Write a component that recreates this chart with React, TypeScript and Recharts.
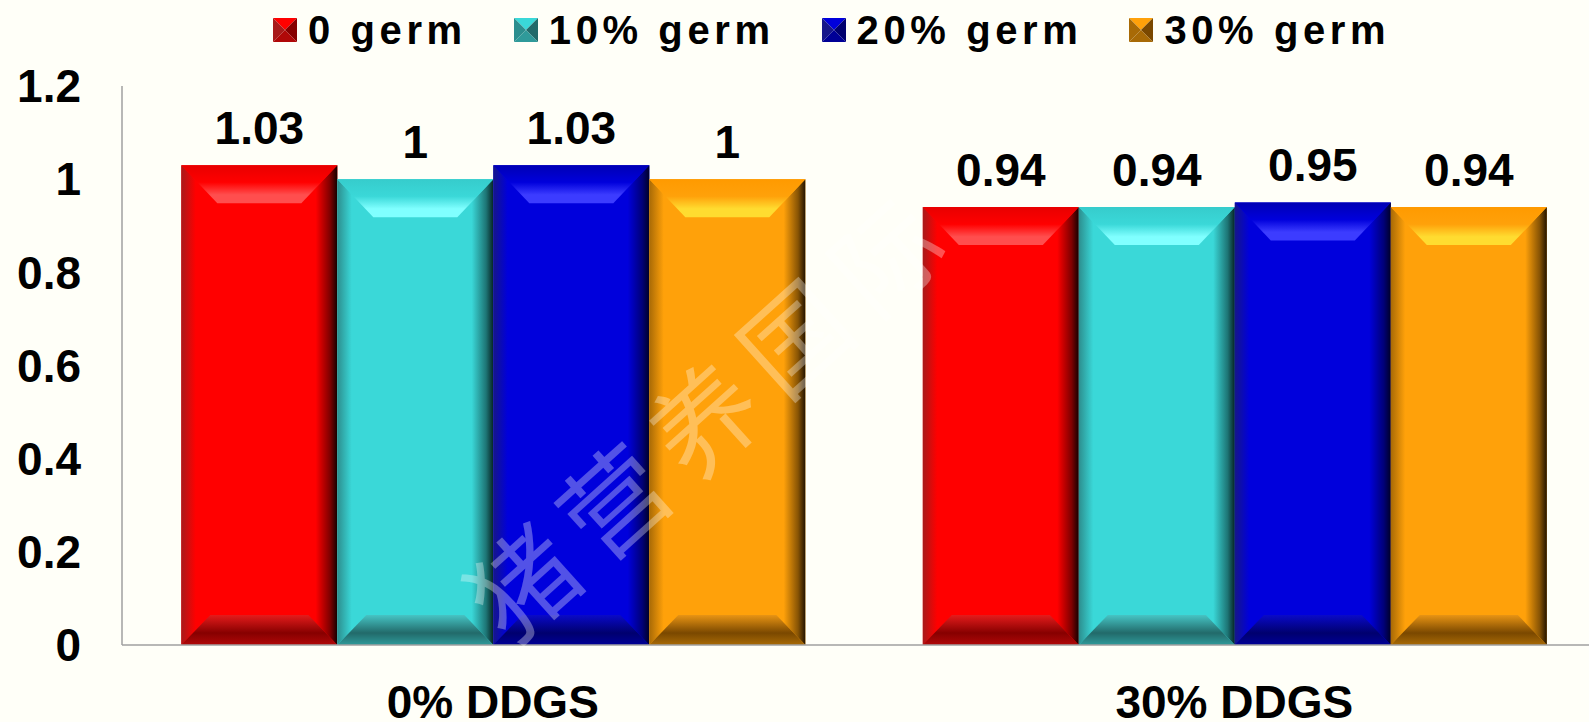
import React from 'react';
import { BarChart, Bar, XAxis, YAxis, LabelList, Legend } from 'recharts';

// Values per diet group
const categories = ['0% DDGS', '30% DDGS'];
const germ0 = [1.03, 0.94];
const germ10 = [1, 0.94];
const germ20 = [1.03, 0.95];
const germ30 = [1, 0.94];
const seriesKeys = ['g0', 'g10', 'g20', 'g30'];
const seriesNames = ['0 germ', '10% germ', '20% germ', '30% germ'];
const yTicks = [0, 0.2, 0.4, 0.6, 0.8, 1, 1.2];

const data = categories.map((name, i) => ({
  name,
  g0: germ0[i],
  g10: germ10[i],
  g20: germ20[i],
  g30: germ30[i],
}));

// colours for the bevelled faces
const SHADES: Record<string, any> = {
  g0: { face: '#ff0000', topEdge: '#e80000', topLight: '#ff4e4e', side: '#a81a1a', dark: '#140000', botLight: '#e41c1c', botDark: '#860000', botEnd: '#b00808' },
  g10: { face: '#3ad8d8', topEdge: '#36cccc', topLight: '#80ffff', side: '#2c8e8e', dark: '#062424', botLight: '#46c4c4', botDark: '#226a6a', botEnd: '#2f9a9a' },
  g20: { face: '#0000dc', topEdge: '#0000b4', topLight: '#3c3cff', side: '#16168a', dark: '#000028', botLight: '#0a0ac8', botDark: '#00006e', botEnd: '#000096' },
  g30: { face: '#ffa10a', topEdge: '#ff9a00', topLight: '#ffdc30', side: '#a86a06', dark: '#241400', botLight: '#e89414', botDark: '#7a4800', botEnd: '#a86a06' },
};

const FONT = '"Liberation Sans", Arial, Helvetica, sans-serif';
const BG = '#fffff8';
const TEXT_STYLE = { fontSize: 46, fontWeight: 'bold', fill: '#000', fontFamily: FONT };

const BevelBar = (props: any) => {
  const { x, y, width: w, height: h, k } = props;
  if (!h || h <= 0) return null;
  const s = SHADES[k];
  const dt = Math.min(38, h / 2);
  const db = Math.min(30, h / 2);
  const dx = 36;
  const dxb = 29;
  const pts = (arr: number[][]) => arr.map((p) => p.join(',')).join(' ');
  return (
    <g>
      <rect x={x} y={y} width={w} height={h} fill={s.face} />
      <polygon
        points={pts([[x, y], [x + dx, y + dt], [x + dxb, y + h - db], [x, y + h]])}
        fill={`url(#left-${k})`}
      />
      <polygon
        points={pts([[x + w, y], [x + w - dx, y + dt], [x + w - dxb, y + h - db], [x + w, y + h]])}
        fill={`url(#right-${k})`}
      />
      <polygon
        points={pts([[x, y], [x + w, y], [x + w - dx, y + dt], [x + dx, y + dt]])}
        fill={`url(#top-${k})`}
      />
      <polygon
        points={pts([[x, y + h], [x + w, y + h], [x + w - dxb, y + h - db], [x + dxb, y + h - db]])}
        fill={`url(#bot-${k})`}
      />
    </g>
  );
};

const LegendIcon = ({ k }: { k: string }) => {
  const s = SHADES[k];
  return (
    <svg width={24} height={24} style={{ display: 'block' }}>
      <polygon points="0,0 24,0 12,12" fill={s.face} />
      <polygon points="0,0 12,12 0,24" fill={s.side} />
      <polygon points="24,0 12,12 24,24" fill={s.botDark} />
      <polygon points="0,24 12,12 24,24" fill={s.botEnd} />
    </svg>
  );
};

const renderLegend = () => (
  <div style={{ display: 'flex', alignItems: 'center', height: 48, fontFamily: FONT }}>
    {seriesKeys.map((k, i) => (
      <div key={k} style={{ display: 'flex', alignItems: 'center', marginRight: 47 }}>
        <LegendIcon k={k} />
        <span
          style={{
            marginLeft: 11,
            fontSize: 40,
            fontWeight: 'bold',
            letterSpacing: 4.6,
            color: '#000',
            lineHeight: '48px',
          }}
        >
          {seriesNames[i]}
        </span>
      </div>
    ))}
  </div>
);

const App: React.FC = () => {
  return (
    <div
      style={{
        position: 'absolute',
        left: 0,
        top: 0,
        width: 1589,
        height: 722,
        overflow: 'hidden',
        background: BG,
      }}
    >
      <BarChart
        width={1605}
        height={722}
        data={data}
        margin={{ top: 38, right: 0, left: 0, bottom: 0 }}
        barCategoryGap="8%"
        barGap={0}
      >
        <defs>
          {seriesKeys.map((k) => {
            const s = SHADES[k];
            return (
              <React.Fragment key={k}>
                <linearGradient id={`top-${k}`} x1="0" y1="0" x2="0" y2="1">
                  <stop offset="0%" stopColor={s.topEdge} />
                  <stop offset="45%" stopColor={s.face} />
                  <stop offset="78%" stopColor={s.topLight} />
                  <stop offset="100%" stopColor={s.topLight} />
                </linearGradient>
                <linearGradient id={`bot-${k}`} x1="0" y1="0" x2="0" y2="1">
                  <stop offset="0%" stopColor={s.botLight} />
                  <stop offset="60%" stopColor={s.botDark} />
                  <stop offset="100%" stopColor={s.botEnd} />
                </linearGradient>
                <linearGradient id={`left-${k}`} x1="0" y1="0" x2="1" y2="0">
                  <stop offset="0%" stopColor={s.side} stopOpacity={1} />
                  <stop offset="40%" stopColor={s.side} stopOpacity={0} />
                </linearGradient>
                <linearGradient id={`right-${k}`} x1="0" y1="0" x2="1" y2="0">
                  <stop offset="40%" stopColor={s.dark} stopOpacity={0} />
                  <stop offset="80%" stopColor={s.dark} stopOpacity={0.55} />
                  <stop offset="100%" stopColor={s.dark} stopOpacity={1} />
                </linearGradient>
              </React.Fragment>
            );
          })}
        </defs>
        <Legend
          verticalAlign="top"
          align="left"
          content={renderLegend}
          wrapperStyle={{ top: 6, left: 273, width: 'auto' }}
        />
        <XAxis
          dataKey="name"
          height={77}
          axisLine={{ stroke: '#a0a0a0', strokeWidth: 1.5 }}
          tickLine={false}
          tickSize={0}
          tickMargin={40}
          tick={TEXT_STYLE}
        />
        <YAxis
          width={122}
          domain={[0, 1.2]}
          ticks={yTicks}
          axisLine={{ stroke: '#a0a0a0', strokeWidth: 1.5 }}
          tickLine={false}
          tickSize={0}
          tickMargin={41}
          tick={TEXT_STYLE}
        />
        {seriesKeys.map((k, i) => (
          <Bar
            key={k}
            dataKey={k}
            name={seriesNames[i]}
            fill={SHADES[k].face}
            isAnimationActive={false}
            shape={(p: any) => <BevelBar {...p} k={k} />}
          >
            <LabelList dataKey={k} position="top" offset={21} style={TEXT_STYLE} />
          </Bar>
        ))}
      </BarChart>
      <svg
        width={1589}
        height={722}
        style={{ position: 'absolute', left: 0, top: 0, pointerEvents: 'none' }}
      >
        <text
          x={0}
          y={0}
          transform="translate(511,648) rotate(-42)"
          fontSize={105}
          letterSpacing={17}
          fontFamily='"Noto Sans CJK SC", sans-serif'
          fill="#ffffff"
          fillOpacity={0.32}
        >
          猪营养国际
        </text>
      </svg>
    </div>
  );
};

export default App;
